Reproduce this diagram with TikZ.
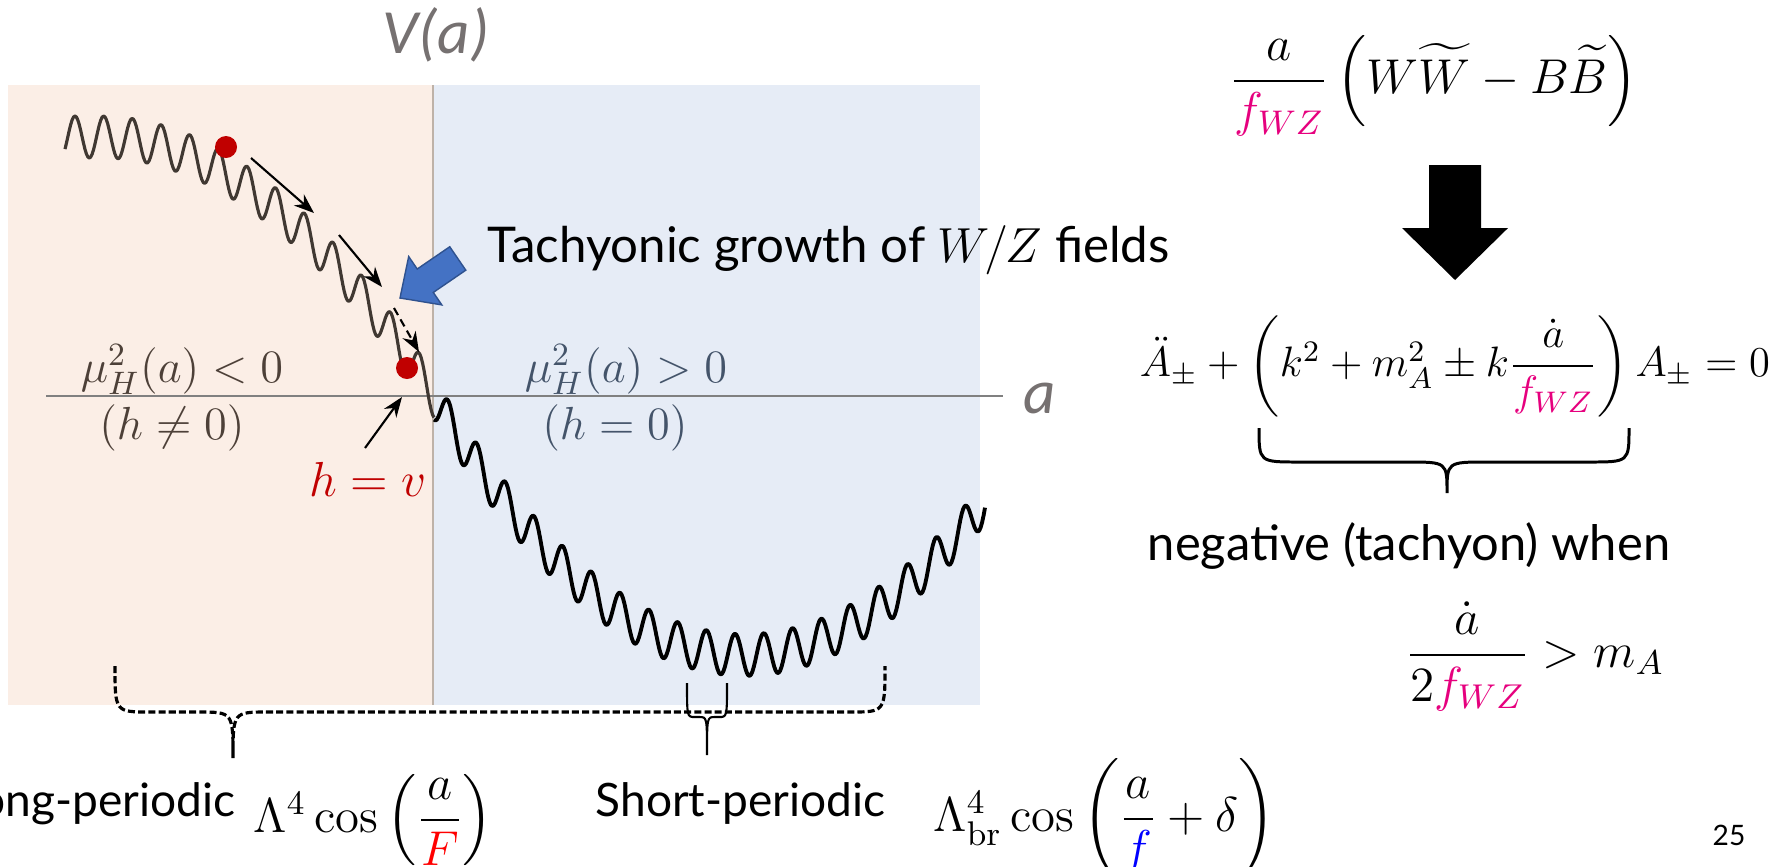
\RequirePackage{fix-cm}
\documentclass[tikz,border=0pt]{standalone}
\usepackage{amsmath}
\usepackage[no-math]{fontspec}
\setmainfont{Lato}
\newfontfamily\calfont{Carlito}
\usetikzlibrary{arrows.meta}

\definecolor{peach}{RGB}{251,238,230}
\definecolor{paleblue}{RGB}{230,236,246}
\definecolor{divgray}{RGB}{190,178,168}
\definecolor{hred}{RGB}{192,0,0}
\definecolor{wzpink}{RGB}{230,0,126}
\definecolor{brwave}{RGB}{64,56,50}
\definecolor{brtext}{RGB}{77,64,56}
\definecolor{slate}{RGB}{68,84,106}
\definecolor{axgray}{RGB}{118,113,113}
\definecolor{arrblue}{RGB}{68,114,196}
\definecolor{arredge}{RGB}{47,82,143}

\begin{document}
\begin{tikzpicture}[>=Stealth, x=0.01cm, y=-0.01cm,
    txt/.style={font=\fontsize{13.1}{16}\selectfont, inner sep=0pt},
    mth/.style={font=\fontsize{#1}{#1}\selectfont, inner sep=0pt},
    axlbl/.style={font=\fontsize{17.9}{20}\selectfont\calfont\itshape, text=axgray, inner sep=0pt},
    hdot/.style={circle, fill=hred, inner sep=0pt, minimum size=0.22cm},
    slide/.style={->, line width=0.6pt},
    wavebr/.style={brwave, line width=0.9pt, line join=round},
    wavebk/.style={black, line width=1.1pt, line join=round},
    brc/.style={line width=0.85pt}]
  \def\hbrace#1#2#3#4#5#6#7#8{%
    \draw[#1] (#2,#5) .. controls (#2,#6) .. (#2+#8,#6) -- (#4-#8,#6)
      .. controls (#4,#6) .. (#4,#7) .. controls (#4,#6) .. (#4+#8,#6)
      -- (#3-#8,#6) .. controls (#3,#6) .. (#3,#5);}
  \useasboundingbox (0,0) rectangle (1783,866);
  % two regions
  \fill[peach] (8,85) rectangle (433,705);
  \fill[paleblue] (433,85) rectangle (980,705);
  \draw[divgray, line width=0.6pt] (433,85) -- (433,705);
  \draw[gray, line width=0.45pt] (46,396) -- (1003,396);
  \node[axlbl, anchor=base] (vlabel) at (436,53) {V(a)};
  \node[axlbl, anchor=base] (alabel) at (1040,413) {a};
  % potential
  \draw[wavebr] plot[domain=65:434, samples=260]
    (\x, {137+(0.04823*max(\x-100,0))*(0.04823*max(\x-100,0))+21*cos(12.544*(\x-692))});
  \draw[wavebk] plot[domain=434:985, samples=380]
    (\x, {655-(0.05148*(\x-745))*(0.05148*(\x-745))+21*cos(12.544*(\x-692))});
  \node[hdot] (hstart) at (226,147) {};
  \node[hdot] (hend) at (407,368) {};
  % rolling
  \coordinate (s1a) at (251,158); \coordinate (s1b) at (314,213);
  \coordinate (s2a) at (339,235); \coordinate (s2b) at (382,287);
  \coordinate (s3a) at (394,308); \coordinate (s3b) at (419,352);
  \coordinate (hva) at (365,448); \coordinate (hvb) at (402,397);
  \draw[slide] (s1a) -- (s1b);
  \draw[slide] (s2a) -- (s2b);
  \draw[slide, dash pattern=on 2.3pt off 1.4pt] (s3a) -- (s3b);
  \draw[slide] (hva) -- (hvb);
  \node[mth=13.2, text=brtext, anchor=base] (muneg) at (182,382) {$\mu_H^2(a)<0$};
  \node[mth=13.2, text=brtext, anchor=base] (hneq) at (172,439) {$(h\neq0)$};
  \node[mth=13.2, text=slate, anchor=base] (mupos) at (626,382) {$\mu_H^2(a)>0$};
  \node[mth=13.2, text=slate, anchor=base] (heq) at (615,439) {$(h=0)$};
  \node[mth=14, text=hred, anchor=base] (hv) at (368,496) {$h=v$};
  % blue pointer
  \begin{scope}[shift={(400,298)}, rotate=34.4]
    \filldraw[fill=arrblue, draw=arredge, line width=0.4pt]
      (0,0) -- (30.6,29.3) -- (30.6,14.2) -- (70,14.2) -- (70,-14.2)
      -- (30.6,-14.2) -- (30.6,-29.3) -- cycle;
  \end{scope}
  \node[txt, font=\fontsize{14}{17}\selectfont, anchor=base west] (tach) at (487,262)
    {Tachyonic growth of $W/Z$ fields};
  % right column
  \node[mth=13.9] (axcoup) at (1434,86)
    {$\dfrac{a}{\color{wzpink}f_{WZ}}\left(W\widetilde{W}-B\widetilde{B}\right)$};
  \fill (1429,165) -- (1481,165) -- (1481,228) -- (1508,228) -- (1455,280)
    -- (1402,228) -- (1429,228) -- cycle;
  \node[mth=12.1] (eom) at (1455,366)
    {$\ddot{A}_\pm+\left(k^2+m_A^2\pm k\dfrac{\dot a}{\color{wzpink}f_{WZ}}\right)A_\pm=0$};
  \hbrace{brc}{1259}{1629}{1447}{428}{462}{493}{40}
  \node[txt, font=\fontsize{13.9}{17}\selectfont, anchor=base] (negw) at (1409,560)
    {negative (tachyon) when};
  \node[mth=14] (cond) at (1535,656) {$\dfrac{\dot a}{2{\color{wzpink}f_{WZ}}}>m_A$};
  % periods
  \hbrace{line width=0.9pt, dash pattern=on 2pt off 0.9pt}{115}{885}{233}{666}{712}{758}{35}
  \hbrace{line width=0.6pt}{687}{727}{707}{683}{717}{755}{8}
  \node[txt, anchor=base east] (longtxt) at (236,816) {Long-periodic};
  \node[mth=13.9, anchor=west] (longeq) at (253,820)
    {$\Lambda^4\cos\left(\dfrac{a}{\color{red}F}\right)$};
  \node[txt, anchor=base west] (shorttxt) at (595,816) {Short-periodic};
  \node[mth=13.9, anchor=west] (shorteq) at (933,819)
    {$\Lambda_{\mathrm{br}}^4\cos\left(\dfrac{a}{\color{blue}f}+\delta\right)$};
  \node[txt, font=\fontsize{8}{10}\selectfont] (pnum) at (1729,835) {25};
\end{tikzpicture}
\end{document}
